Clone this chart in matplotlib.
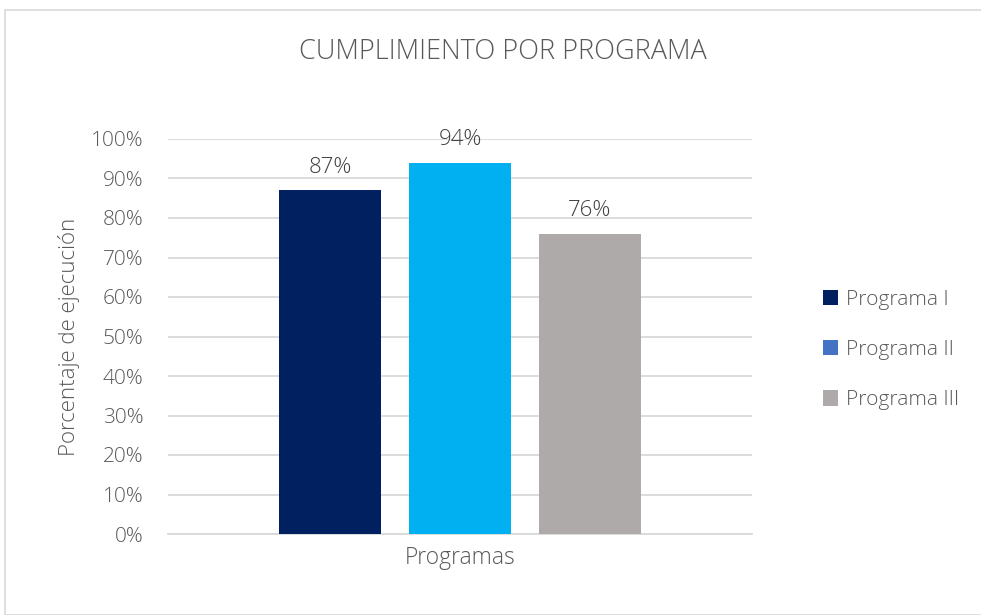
import matplotlib
matplotlib.use("Agg")
import matplotlib.pyplot as plt
from matplotlib.patches import Patch, Rectangle

categories = ["Programa I", "Programa II", "Programa III"]
values = [0.87, 0.94, 0.76]
bar_colors = ["#002060", "#00B0F0", "#AEAAAA"]
legend_colors = ["#002060", "#4472C4", "#AEAAAA"]
yticks = [0, 0.1, 0.2, 0.3, 0.4, 0.5, 0.6, 0.7, 0.8, 0.9, 1.0]
ytick_labels = ["0%", "10%", "20%", "30%", "40%", "50%", "60%", "70%", "80%", "90%", "100%"]
value_labels = ["87%", "94%", "76%"]
title = "CUMPLIMIENTO POR PROGRAMA"
xcat = "Programas"
ylabel = "Porcentaje de ejecución"

plt.rcParams['font.family'] = ['Open Sans', 'DejaVu Sans']
txt = "#595959"

fig = plt.figure(figsize=(9.81, 6.15), dpi=100)
fig.patches.append(Rectangle((5/981, 0), 1.0, 1 - 10/615, transform=fig.transFigure,
                             fill=False, edgecolor="#D9D9D9", linewidth=1.2))
ax = fig.add_axes([168/981, 81/615, 584/981, 395/615])

pos = [-1, 0, 1]
w = 0.79
bars = ax.bar(pos, values, width=w, color=bar_colors, zorder=3)
for p, v, lab in zip(pos, values, value_labels):
    ax.annotate(lab, (p, v), xytext=(0, 9), textcoords="offset points",
                ha="center", va="bottom", fontsize=16, color="#404040", fontweight="light")

ax.set_xlim(-2.246, 2.246)
ax.set_ylim(0, 1.0)
ax.set_yticks(yticks)
ax.set_yticklabels(ytick_labels, fontsize=15, color=txt, fontweight="light")
ax.set_xticks([0])
ax.set_xticklabels([xcat], fontsize=16.5, color=txt, fontweight="light")
ax.tick_params(axis="both", length=0)
ax.tick_params(axis="y", pad=17.5)
ax.tick_params(axis="x", pad=9)
ax.yaxis.grid(True, color="#D9D9D9", linewidth=1.3, zorder=0)
ax.set_axisbelow(True)
for s in ["top", "right", "left"]:
    ax.spines[s].set_visible(False)
ax.spines["bottom"].set_color("#D9D9D9")
ax.spines["bottom"].set_linewidth(1.3)
ax.set_ylabel(ylabel, fontsize=16, color=txt, fontweight="light", labelpad=8)

fig.text(503/981, 1 - 52/615, title, ha="center", va="center", fontsize=19.5,
         color=txt, fontweight="light")

handles = [Patch(facecolor=c, edgecolor="none") for c in legend_colors]
leg = fig.legend(handles, categories, loc="center left", bbox_to_anchor=(804/981, 1 - 350/615),
                 frameon=False, fontsize=15, labelspacing=1.45, handlelength=0.75,
                 handleheight=0.75, handletextpad=0.35)
for t in leg.get_texts():
    t.set_color(txt)
    t.set_fontweight("light")

fig.savefig("out.png", dpi=100)
